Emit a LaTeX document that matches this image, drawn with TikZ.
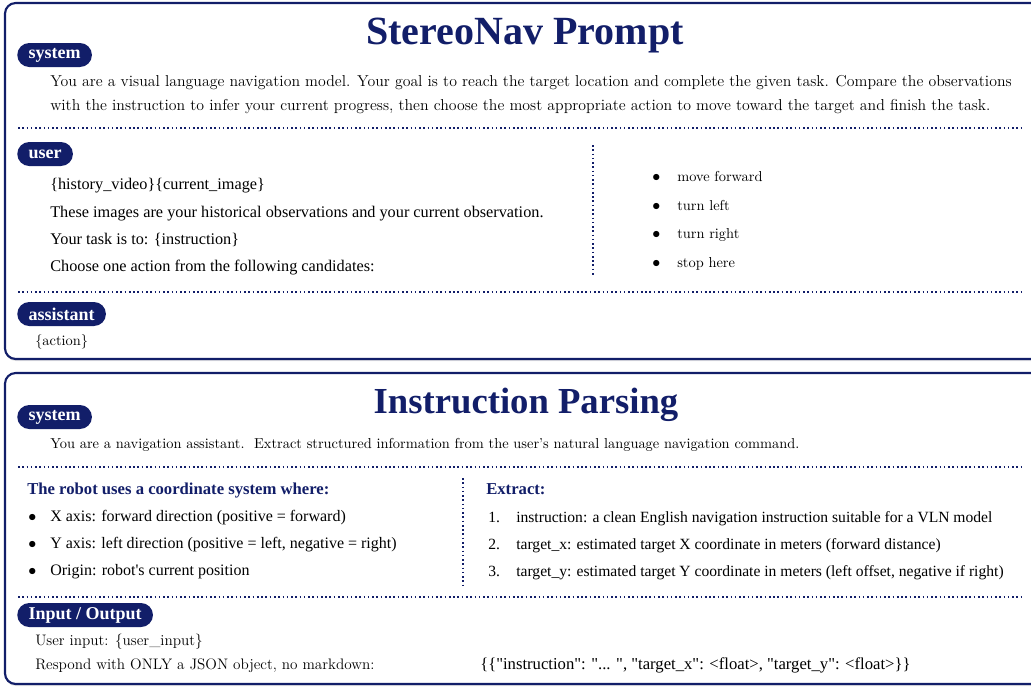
\documentclass[tikz,border=0pt]{standalone}
\usepackage{fontspec}
\usepackage{tikz}
\usetikzlibrary{positioning, shadows}
\newfontfamily\tmsfont{Liberation Serif}
\definecolor{navnavy}{RGB}{18,30,105}

\begin{document}
\begin{tikzpicture}[
        x=0.75pt, y=-0.75pt,
        panel/.style={draw=navnavy, line width=1.6pt, rounded corners=8pt, fill=white, drop shadow={opacity=0.2, shadow xshift=0pt, shadow yshift=-1.5pt}},
        rolepill/.style={fill=navnavy, text=white, rounded corners=9pt, anchor=west, minimum height=18pt, inner xsep=8.5pt, inner ysep=0pt, font=\tmsfont\bfseries\fontsize{13.5}{14}\selectfont},
        ptitle/.style={anchor=base, text=navnavy, font=\tmsfont\bfseries\fontsize{30}{30}\selectfont},
        head/.style={anchor=base west, inner sep=0pt, text=navnavy, font=\tmsfont\bfseries\fontsize{12.5}{14}\selectfont},
        tline/.style={anchor=base west, inner sep=0pt, font=\tmsfont\fontsize{11.7}{13}\selectfont},
        cline/.style={anchor=base west, inner sep=0pt, font=\fontsize{10.8}{13}\selectfont},
        dotmark/.style={anchor=base west, inner sep=0pt, font=\fontsize{12}{13}\selectfont},
        sep/.style={navnavy, dotted, line width=1.2pt},
    ]
        \clip (0,0) rectangle (1031,687);

        % StereoNav prompt panel
        \draw[panel] (5,3) rectangle (1045,359);
        \node[ptitle] (navtitle) at (525,44) {StereoNav Prompt};

        % system part
        \node[rolepill] (navsys) at (17,55) {system};
        \node[cline, font=\fontsize{11.85}{13}\selectfont] (navsysA) at (50,86) {You are a visual language navigation model. Your goal is to reach the target location and complete the given task. Compare the observations};
        \node[cline, font=\fontsize{11.85}{13}\selectfont] (navsysB) at (50,110) {with the instruction to infer your current progress, then choose the most appropriate action to move toward the target and finish the task.};
        \draw[sep] (18,128) -- (1022,128);

        % user part, left column
        \node[rolepill] (navuser) at (17,154) {user};
        \node[tline, font=\tmsfont\fontsize{12.2}{13}\selectfont] (userA) at (50,189) {\{history\_video\}\{current\_image\}};
        \node[tline, font=\tmsfont\fontsize{12.2}{13}\selectfont] (userB) at (50,217) {These images are your historical observations and your current observation.};
        \node[tline, font=\tmsfont\fontsize{12.2}{13}\selectfont] (userC) at (50,244) {Your task is to: \{instruction\}};
        \node[tline, font=\tmsfont\fontsize{12.2}{13}\selectfont] (userD) at (50,271) {Choose one action from the following candidates:};
        \draw[sep] (593,145) -- (593,277);

        % user part, candidate actions
        \foreach \act [count=\i] in {move forward, turn left, turn right, stop here} {
            \node[dotmark] (actdot\i) at (652,153+28.5*\i) {$\bullet$};
            \node[cline] (act\i) at (677,153+28.5*\i) {\act};
        }
        \draw[sep] (18,292) -- (1022,292);

        % assistant part
        \node[rolepill] (navasst) at (17,314) {assistant};
        \node[cline] (asstA) at (35,345) {\{action\}};

        % Instruction parsing panel
        \draw[panel] (5,373) rectangle (1045,684);
        \node[ptitle, font=\tmsfont\bfseries\fontsize{27.5}{28}\selectfont] (parsetitle) at (526,413) {Instruction Parsing};

        \node[rolepill] (parsesys) at (17,417) {system};
        \node[cline] (parsesysA) at (50,448) {You are a navigation assistant.\ \ Extract structured information from the user's natural language navigation command.};
        \draw[sep] (18,467) -- (1022,467);

        % coordinate system, left column
        \node[head] (coordhead) at (27,494) {The robot uses a coordinate system where:};
        \foreach \ax [count=\i] in {X axis: forward direction (positive = forward),
                                    Y axis: left direction (positive = left{,} negative = right),
                                    Origin: robot's current position} {
            \node[dotmark] (axdot\i) at (28,494+27.3*\i) {$\bullet$};
            \node[tline, font=\tmsfont\fontsize{12}{13}\selectfont] (ax\i) at (50,494+27.3*\i) {\ax};
        }
        \draw[sep] (463,478) -- (463,585);

        % fields to extract, right column
        \node[head] (exthead) at (486,494) {Extract:};
        \node[tline] (extnum1) at (488,522) {1.};
        \node[tline] (ext1) at (516,522) {instruction: a clean English navigation instruction suitable for a VLN model};
        \node[tline] (extnum2) at (488,549) {2.};
        \node[tline] (ext2) at (516,549) {target\_x: estimated target X coordinate in meters (forward distance)};
        \node[tline] (extnum3) at (488,576) {3.};
        \node[tline] (ext3) at (516,576) {target\_y: estimated target Y coordinate in meters (left offset, negative if right)};
        \draw[sep] (18,597) -- (1022,597);

        % input / output part
        \node[rolepill] (parseio) at (17,615) {Input / Output};
        \node[cline, font=\fontsize{11.4}{13}\selectfont] (ioA) at (35,645) {User input: \{user\_input\}};
        \node[cline, font=\fontsize{11.4}{13}\selectfont] (ioB) at (35,669) {Respond with ONLY a JSON object, no markdown:};
        \node[tline, font=\tmsfont\fontsize{12.5}{13}\selectfont] (ioC) at (480,669) {\{\{"instruction": "... ", "target\_x": <float>, "target\_y": <float>\}\}};
    \end{tikzpicture}
\end{document}
